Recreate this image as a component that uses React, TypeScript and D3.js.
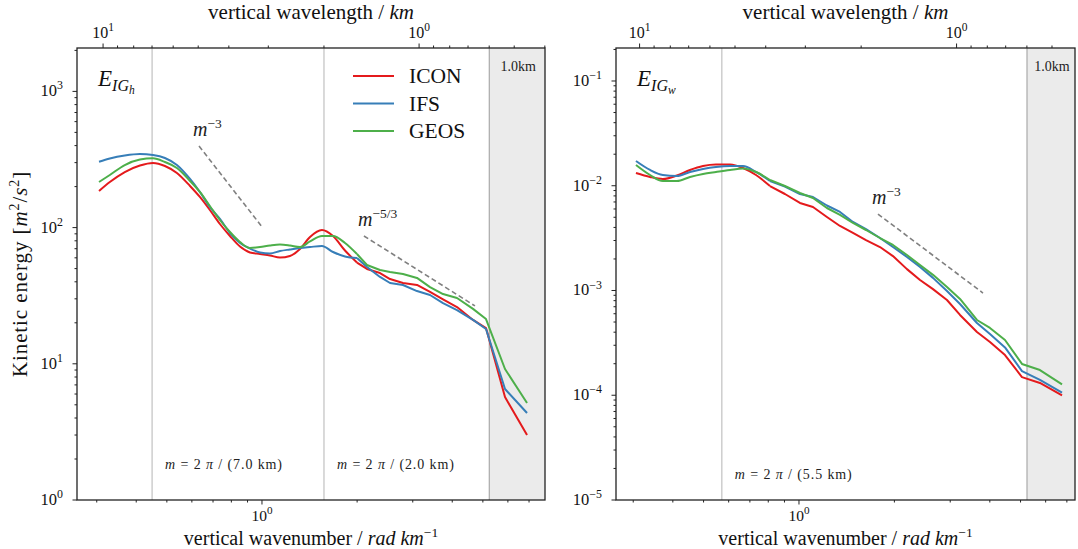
import React from "react";
import * as d3 from "d3";

const W = 1078;
const H = 549;

const modelNames = ["ICON", "IFS", "GEOS"];
const modelColors = ["#e41a1c", "#377eb8", "#4daf4a"];

// Left panel: horizontal inertia-gravity wave kinetic energy
const wavenumberH = [0.305, 0.33, 0.368, 0.411, 0.452, 0.493, 0.538, 0.592, 0.636, 0.684, 0.736, 0.792, 0.852, 0.916, 0.986, 1.06, 1.14, 1.226, 1.319, 1.419, 1.548, 1.678, 1.831, 1.998, 2.149, 2.363, 2.542, 2.794, 3.094, 3.402, 3.74, 4.141, 4.654, 5.116, 5.875, 6.898];
const iconH = [185.7, 216.2, 256.0, 285.7, 298.1, 283.4, 251.7, 202.0, 167.8, 134.7, 106.3, 86.8, 72.6, 65.7, 64.0, 62.4, 60.3, 61.9, 69.7, 85.3, 96.0, 86.8, 67.9, 55.4, 49.7, 46.4, 41.9, 39.2, 37.9, 33.7, 29.7, 26.1, 21.0, 18.3, 5.7, 3.0];
const ifsH = [304.7, 321.6, 338.3, 347.0, 341.2, 324.3, 288.1, 227.5, 182.6, 141.7, 115.7, 91.3, 77.1, 70.2, 65.7, 64.5, 67.3, 69.1, 70.8, 72.0, 73.3, 66.2, 61.4, 59.8, 51.4, 43.4, 39.2, 37.9, 34.2, 32.0, 27.9, 24.8, 21.0, 18.0, 6.53, 4.35];
const geosH = [216.2, 243.4, 288.1, 316.2, 322.7, 303.1, 273.9, 219.9, 182.6, 144.1, 113.7, 92.8, 78.4, 70.8, 72.0, 73.9, 75.1, 73.9, 72.0, 79.1, 86.8, 86.8, 77.1, 64.0, 53.1, 48.8, 47.2, 45.6, 42.7, 36.6, 32.5, 30.4, 25.3, 21.3, 9.16, 5.15];

// Right panel: vertical inertia-gravity wave kinetic energy
const wavenumberW = [0.306, 0.339, 0.372, 0.412, 0.453, 0.498, 0.547, 0.606, 0.666, 0.732, 0.81, 0.903, 1.007, 1.107, 1.225, 1.347, 1.48, 1.627, 1.801, 1.979, 2.191, 2.409, 2.647, 2.93, 3.221, 3.643, 4.004, 4.466, 5.052, 5.757, 6.758];
const iconW = [0.01323, 0.01212, 0.0116, 0.01253, 0.01414, 0.01543, 0.01595, 0.01595, 0.01477, 0.01266, 0.00994, 0.00834, 0.00685, 0.00627, 0.00503, 0.00413, 0.00354, 0.00303, 0.0026, 0.00213, 0.0016, 0.00126, 0.00103, 0.000811, 0.000584, 0.000402, 0.000322, 0.000242, 0.000149, 0.000131, 0.0000995];
const ifsW = [0.01723, 0.01414, 0.01266, 0.01239, 0.01353, 0.01445, 0.0151, 0.01543, 0.01543, 0.01353, 0.0111, 0.00983, 0.00834, 0.00781, 0.00648, 0.00562, 0.00451, 0.00386, 0.00317, 0.0026, 0.00209, 0.00168, 0.00132, 0.000989, 0.000743, 0.000489, 0.000384, 0.000286, 0.00017, 0.00014, 0.000106];
const geosW = [0.01578, 0.01266, 0.0111, 0.0111, 0.01212, 0.01295, 0.01353, 0.01414, 0.01461, 0.01353, 0.01135, 0.00994, 0.00853, 0.00764, 0.00613, 0.00526, 0.00441, 0.00378, 0.00317, 0.00272, 0.00218, 0.00175, 0.00141, 0.00108, 0.00083, 0.000523, 0.000439, 0.000337, 0.000199, 0.000174, 0.000127];

// Reference slopes (start/end wavenumber, start/end energy)
const refH = [
  { exp: "−3", m: [0.632, 1.007], e: [397, 99.3] },
  { exp: "−5/3", m: [2.102, 4.721], e: [86.8, 26.6] },
];
const refW = [{ exp: "−3", m: [1.775, 3.806], e: [0.00537, 0.000946] }];

const vlinesH = [
  { m: 0.449, label: "(7.0 km)" },
  { m: 1.571, label: "(2.0 km)" },
];
const vlinesW = [{ m: 0.571, label: "(5.5 km)" }];
const resolutionStart = 5.24;
const resolutionLabel = "1.0km";

const topTickWavelengths = [10, 9, 8, 7, 6, 5, 4, 3, 2, 1, 0.9, 0.8, 0.7, 0.6, 0.5, 0.4];
const topMajor = [10, 1];

const FONT = "'Liberation Serif', 'DejaVu Serif', serif";

type PanelProps = {
  x0: number; x1: number; y0: number; y1: number;
  xDomain: [number, number]; yDomain: [number, number];
  yExps: number[];
  m: number[]; series: number[][];
  linearFrom: number;
  refs: { exp: string; m: number[]; e: number[] }[];
  vlines: { m: number; label: string }[];
  vlabelDy: number;
  sub: string;
  legend: boolean;
  ylabel: boolean;
};

function Pow({ x, y, exp, anchor, size }: { x: number; y: number; exp: string; anchor: string; size: number }) {
  return (
    <text x={x} y={y} textAnchor={anchor} fontSize={size} fontFamily={FONT} fill="#111">
      10<tspan dy={-size * 0.42} fontSize={size * 0.72}>{exp}</tspan>
    </text>
  );
}

function Panel(p: PanelProps) {
  const xs = d3.scaleLog().domain(p.xDomain).range([p.x0, p.x1]);
  const ys = d3.scaleLog().domain(p.yDomain).range([p.y1, p.y0]);
  const smooth = d3
    .line<[number, number]>()
    .x((d) => xs(d[0]))
    .y((d) => ys(d[1]))
    .curve(d3.curveMonotoneX);
  const straight = d3
    .line<[number, number]>()
    .x((d) => xs(d[0]))
    .y((d) => ys(d[1]));

  const bottomMinor: number[] = [];
  for (let dec = -1; dec <= 1; dec++) {
    for (let k = 1; k <= 9; k++) {
      const v = k * Math.pow(10, dec);
      if (v >= p.xDomain[0] && v <= p.xDomain[1]) bottomMinor.push(v);
    }
  }
  const yMinor: number[] = [];
  const dMin = Math.floor(Math.log10(p.yDomain[0]));
  const dMax = Math.ceil(Math.log10(p.yDomain[1]));
  for (let dec = dMin; dec <= dMax; dec++) {
    for (let k = 2; k <= 9; k++) {
      const v = k * Math.pow(10, dec);
      if (v >= p.yDomain[0] && v <= p.yDomain[1]) yMinor.push(v);
    }
  }
  const topTicks = topTickWavelengths
    .map((l) => ({ l, v: Math.PI / l }))
    .filter((d) => d.v >= p.xDomain[0] && d.v <= p.xDomain[1] * 1.0001);

  const cx = (p.x0 + p.x1) / 2;
  const gx = xs(resolutionStart);
  const stroke = "#222";
  const split = p.m.findIndex((v) => v >= p.linearFrom);

  return (
    <g>
      {/* shaded region */}
      <rect x={gx} y={p.y0} width={p.x1 - gx} height={p.y1 - p.y0} fill="#ebebeb" />
      <line x1={gx} x2={gx} y1={p.y0} y2={p.y1} stroke="#aaaaaa" strokeWidth={1.2} />
      <text x={(gx + p.x1) / 2 + 1} y={p.y0 + 23} textAnchor="middle" fontSize={14} fontFamily={FONT} fill="#222">
        {resolutionLabel}
      </text>
      {/* vertical lines */}
      {p.vlines.map((v, i) => (
        <g key={i}>
          <line x1={xs(v.m)} x2={xs(v.m)} y1={p.y0} y2={p.y1} stroke="#c0c0c0" strokeWidth={1.2} />
          <text x={xs(v.m) + 13} y={p.y1 - p.vlabelDy} fontSize={14} letterSpacing={0.9} fontFamily={FONT} fill="#222">
            <tspan fontStyle="italic">m</tspan> = 2 <tspan fontStyle="italic">π</tspan> / {v.label}
          </text>
        </g>
      ))}
      {/* reference slopes */}
      {p.refs.map((r, i) => (
        <g key={i}>
          <line
            x1={xs(r.m[0])} y1={ys(r.e[0])} x2={xs(r.m[1])} y2={ys(r.e[1])}
            stroke="#808080" strokeWidth={1.6} strokeDasharray="5,3"
          />
          <text x={xs(r.m[0]) - 6} y={ys(r.e[0]) - 10} fontSize={20} fontFamily={FONT} fill="#222">
            <tspan fontStyle="italic">m</tspan>
            <tspan dy={-8} fontSize={13.5}>{r.exp}</tspan>
          </text>
        </g>
      ))}
      {/* data lines */}
      {p.series.map((s, i) => {
        const pts = p.m.map((mv, j) => [mv, s[j]] as [number, number]);
        const a = smooth(pts.slice(0, split + 1)) || "";
        const b = straight(pts.slice(split)) || "";
        return (
          <g key={i}>
            <path d={a} fill="none" stroke={modelColors[i]} strokeWidth={2} strokeLinejoin="round" />
            <path d={b} fill="none" stroke={modelColors[i]} strokeWidth={2} strokeLinejoin="round" />
          </g>
        );
      })}
      {/* frame */}
      <rect x={p.x0} y={p.y0} width={p.x1 - p.x0} height={p.y1 - p.y0} fill="none" stroke={stroke} strokeWidth={1.3} />
      {/* bottom ticks */}
      {bottomMinor.map((v, i) => {
        const major = Math.abs(Math.log10(v) - Math.round(Math.log10(v))) < 1e-9;
        return <line key={i} x1={xs(v)} x2={xs(v)} y1={p.y1} y2={p.y1 + (major ? 4.5 : 2.5)} stroke={stroke} strokeWidth={1} />;
      })}
      <Pow x={xs(1)} y={p.y1 + 21} exp="0" anchor="middle" size={15.5} />
      <text x={cx} y={p.y1 + 45} textAnchor="middle" fontSize={20} fontFamily={FONT} fill="#111">
        vertical wavenumber / <tspan fontStyle="italic">rad km</tspan>
        <tspan dy={-8} fontSize={13.5}>−1</tspan>
      </text>
      {/* top ticks */}
      {topTicks.map((t, i) => {
        const major = topMajor.includes(t.l);
        return <line key={i} x1={xs(t.v)} x2={xs(t.v)} y1={p.y0} y2={p.y0 - (major ? 4.5 : 2.5)} stroke={stroke} strokeWidth={1} />;
      })}
      {topMajor.map((l, i) => (
        <Pow key={i} x={xs(Math.PI / l)} y={p.y0 - 10} exp={l === 10 ? "1" : "0"} anchor="middle" size={16} />
      ))}
      <text x={cx} y={p.y0 - 29} textAnchor="middle" fontSize={21} fontFamily={FONT} fill="#111">
        vertical wavelength / <tspan fontStyle="italic">km</tspan>
      </text>
      {/* y ticks */}
      {yMinor.map((v, i) => (
        <line key={i} x1={p.x0} x2={p.x0 - 2.5} y1={ys(v)} y2={ys(v)} stroke={stroke} strokeWidth={1} />
      ))}
      {p.yExps.map((e, i) => (
        <g key={i}>
          <line x1={p.x0} x2={p.x0 - 4.5} y1={ys(Math.pow(10, e))} y2={ys(Math.pow(10, e))} stroke={stroke} strokeWidth={1} />
          <Pow x={p.x0 - 14} y={ys(Math.pow(10, e)) + 5} exp={e < 0 ? "−" + Math.abs(e) : String(e)} anchor="end" size={16.5} />
        </g>
      ))}
      {/* panel label */}
      <text x={p.x0 + 21} y={p.y0 + 38} fontSize={23} fontFamily={FONT} fontStyle="italic" fill="#111">
        E<tspan dy={5} fontSize={16}>IG</tspan>
        <tspan dy={3} fontSize={11.5}>{p.sub}</tspan>
      </text>
      {p.ylabel && (
        <text
          transform={`translate(${p.x0 - 50},${(p.y0 + p.y1) / 2}) rotate(-90)`}
          textAnchor="middle" fontSize={21} letterSpacing={0.9} fontFamily={FONT} fill="#111"
        >
          Kinetic energy [<tspan fontStyle="italic">m</tspan>
          <tspan dy={-8} fontSize={14}>2</tspan>
          <tspan dy={8}>/</tspan>
          <tspan fontStyle="italic">s</tspan>
          <tspan dy={-8} fontSize={14}>2</tspan>
          <tspan dy={8}>]</tspan>
        </text>
      )}
      {p.legend &&
        modelNames.map((n, i) => (
          <g key={n}>
            <line x1={353} x2={394} y1={76 + i * 27.5} y2={76 + i * 27.5} stroke={modelColors[i]} strokeWidth={2} />
            <text x={409} y={83 + i * 27.5} fontSize={21.5} fontFamily={FONT} fill="#111">{n}</text>
          </g>
        ))}
    </g>
  );
}

export default function App() {
  return (
    <svg width={W} height={H} style={{ display: "block", position: "absolute", left: 0, top: 0, background: "#fff" }}>
      <Panel
        x0={77} x1={545} y0={48} y1={500}
        xDomain={[0.2598, 7.863]} yDomain={[1, 2083]}
        yExps={[0, 1, 2, 3]}
        m={wavenumberH} series={[iconH, ifsH, geosH]} linearFrom={1.9}
        refs={refH} vlines={vlinesH} vlabelDy={31}
        sub="h" legend={true} ylabel={true}
      />
      <Panel
        x0={616} x1={1075} y0={48} y1={500}
        xDomain={[0.2647, 7.426]} yDomain={[1e-5, 0.2065]}
        yExps={[-5, -4, -3, -2, -1]}
        m={wavenumberW} series={[iconW, ifsW, geosW]} linearFrom={0.8}
        refs={refW} vlines={vlinesW} vlabelDy={21}
        sub="w" legend={false} ylabel={false}
      />
    </svg>
  );
}
